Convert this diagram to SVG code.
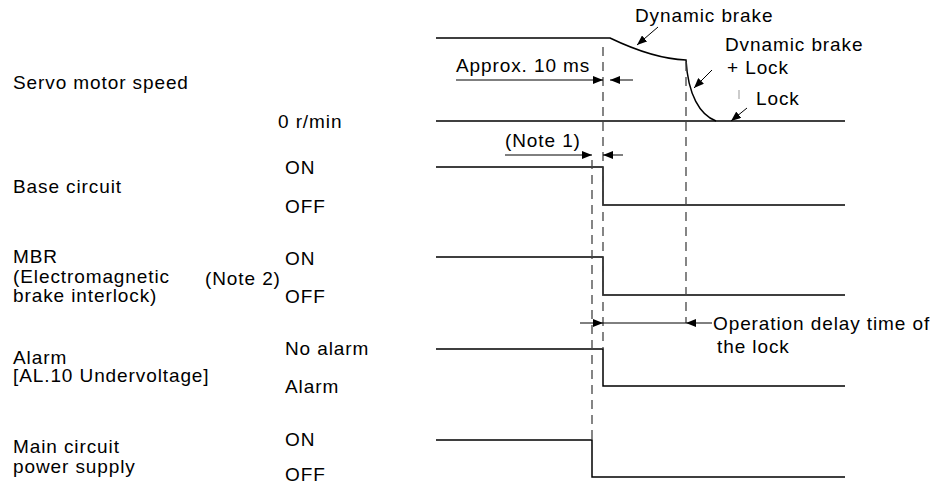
<svg xmlns="http://www.w3.org/2000/svg" width="943" height="485" viewBox="0 0 943 485">
<style>
text{font-family:"Liberation Sans",Arial,sans-serif;font-size:19px;letter-spacing:0.9px;fill:#000}
.sig{fill:none;stroke:#000;stroke-width:1.5}
.dash{fill:none;stroke:#444;stroke-width:1.3;stroke-dasharray:9 6}
.dim{fill:none;stroke:#000;stroke-width:1}
</style>
<defs>
<marker id="tip" viewBox="0 0 10 8" refX="10" refY="4" markerWidth="10" markerHeight="8" markerUnits="userSpaceOnUse" orient="auto">
<path d="M0,0 L10,4 L0,8 Z" fill="#000"/>
</marker>
</defs>
<rect width="943" height="485" fill="#fff"/>

<g id="speed">
<text x="13" y="89">Servo motor speed</text>
<text x="278" y="128">0 r/min</text>
<path class="sig" d="M436,38 H610 C635,50 660,59 686,60 C688,95 700,115 716,121"/>
<path class="sig" d="M436,121 H845"/>
<text x="635" y="22">Dynamic brake</text>
<text x="725" y="51">Dvnamic brake</text>
<text x="727" y="74">+ Lock</text>
<text x="756" y="105">Lock</text>
<path d="M739,90 V99" stroke="#999" stroke-width="1"/>
</g>

<g id="base">
<text x="13" y="193">Base circuit</text>
<text x="285" y="174">ON</text>
<text x="285" y="213">OFF</text>
<path class="sig" d="M436,167 H603 V205 H845"/>
</g>

<g id="mbr">
<text x="13" y="263">MBR</text>
<text x="13" y="283">(Electromagnetic</text>
<text x="13" y="302">brake interlock)</text>
<text x="205" y="285">(Note 2)</text>
<text x="285" y="265">ON</text>
<text x="285" y="303">OFF</text>
<path class="sig" d="M436,257 H603 V295 H845"/>
</g>

<g id="alarm">
<text x="13" y="364">Alarm</text>
<text x="13" y="382">[AL.10 Undervoltage]</text>
<text x="285" y="355">No alarm</text>
<text x="285" y="393">Alarm</text>
<path class="sig" d="M436,349 H603 V386 H845"/>
</g>

<g id="main">
<text x="13" y="453">Main circuit</text>
<text x="13" y="473">power supply</text>
<text x="285" y="446">ON</text>
<text x="285" y="481">OFF</text>
<path class="sig" d="M436,440 H592 V477 H845"/>
</g>

<g id="connectors">
<path class="dash" d="M603,47 V349"/>
<path class="dash" d="M592,160 V440"/>
<path class="dash" d="M686,62 V323"/>

<text x="456" y="72">Approx. 10 ms</text>
<path class="dim" d="M456,80 H603" marker-end="url(#tip)"/>
<path class="dim" d="M633,80 H610" marker-end="url(#tip)"/>

<text x="505" y="147">(Note 1)</text>
<path class="dim" d="M505,155 H592" marker-end="url(#tip)"/>
<path class="dim" d="M623,155 H603" marker-end="url(#tip)"/>

<path class="dim" d="M580,323 H603" marker-end="url(#tip)"/>
<path class="dim" d="M712,323 H686" marker-end="url(#tip)"/>
<path class="dim" d="M603,323 H686"/>
<text x="713" y="330">Operation delay time of</text>
<text x="717" y="353">the lock</text>

<path class="dim" d="M658,27 L637,45" marker-end="url(#tip)"/>
<path class="dim" d="M712,70 L694,88" marker-end="url(#tip)"/>
<path class="dim" d="M747,108 L731,121" marker-end="url(#tip)"/>
</g>
</svg>
